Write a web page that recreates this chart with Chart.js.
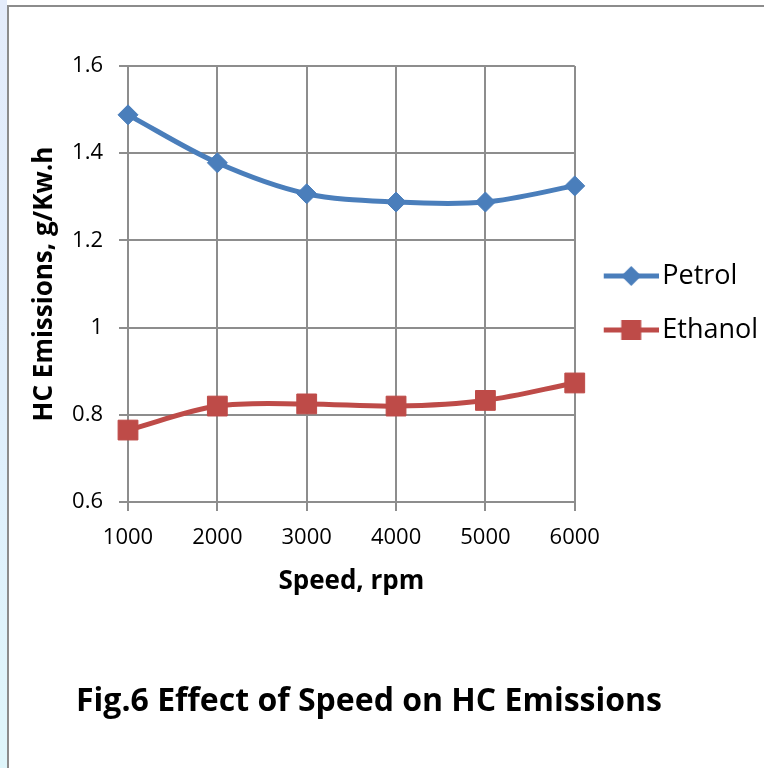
<!DOCTYPE html>
<html>
<head>
<meta charset="utf-8">
<script src="https://cdn.jsdelivr.net/npm/chart.js@4.4.0/dist/chart.umd.min.js"></script>
<style>
  html, body { margin: 0; padding: 0; background: #fff; }
  #wrap { position: relative; width: 764px; height: 768px; overflow: hidden; }
  #strip { position: absolute; left: 0; top: 0; width: 7px; height: 768px;
           background: linear-gradient(#e4ecfb, #dfeefc 50%, #dff6fb); }
  #frame { position: absolute; left: 7px; top: 5px; right: -10px; bottom: -10px;
           border-left: 2px solid #8c8c8c; border-top: 2px solid #8c8c8c; }
  canvas { position: absolute; left: 0; top: 0; }
  #caption { position: absolute; left: 0; width: 738px; top: 677px; line-height: 40px;
             text-align: center; font: bold 32px 'Open Sans', sans-serif; color: #000; }
</style>
</head>
<body>
<div id="wrap">
  <div id="strip"></div>
  <div id="frame"></div>
  <canvas id="HcChart" width="764" height="768"></canvas>
  <div id="caption"></div>
</div>
<script>
var speeds = ["1000", "2000", "3000", "4000", "5000", "6000"];
var petrol = [1.488, 1.378, 1.307, 1.288, 1.288, 1.325];
var ethanol = [0.765, 0.820, 0.825, 0.820, 0.833, 0.873];
var seriesNames = ["Petrol", "Ethanol"];
var yAxisLabel = "HC Emissions, g/Kw.h";
var xAxisLabel = "Speed, rpm";
var captionText = "Fig.6 Effect of Speed on HC Emissions";

var blue = "#4A7EBB";
var red = "#BE4B48";
var gridColor = "#8d8d8d";
var fontName = "'Open Sans', 'DejaVu Sans', sans-serif";

document.getElementById('caption').textContent = captionText;

// line + marker symbol for the legend (Excel style), left part kept transparent
function legendSymbol(color, marker){
    let c = document.createElement('canvas');
    c.width = 67;
    c.height = 22;
    let ctx = c.getContext('2d');
    ctx.strokeStyle = color;
    ctx.lineWidth = 5;
    ctx.beginPath();
    ctx.moveTo(12, 11);
    ctx.lineTo(67, 11);
    ctx.stroke();
    ctx.fillStyle = color;
    let cx = 39.5;
    if(marker == 'diamond'){
        ctx.beginPath();
        ctx.moveTo(cx, 1);
        ctx.lineTo(cx + 10, 11);
        ctx.lineTo(cx, 21);
        ctx.lineTo(cx - 10, 11);
        ctx.closePath();
        ctx.fill();
    }
    else{
        ctx.fillRect(cx - 10, 1, 20, 20);
    }
    return c;
}

var symbols = [legendSymbol(blue, 'diamond'), legendSymbol(red, 'square')];

let data = {
    labels: speeds,
    datasets: [
        {
            label: seriesNames[0],
            data: petrol,
            borderColor: blue,
            backgroundColor: blue,
            borderWidth: 5,
            pointStyle: 'rectRot',
            pointRadius: 10,
            pointBorderWidth: 1,
            tension: 0.33,
            clip: false
        },
        {
            label: seriesNames[1],
            data: ethanol,
            borderColor: red,
            backgroundColor: red,
            borderWidth: 5,
            pointStyle: 'rect',
            pointRadius: 14,
            pointBorderWidth: 1,
            tension: 0.33,
            clip: false
        }
    ]
};

let config = {
    type: 'line',
    data: data,
    options: {
        responsive: false,
        animation: false,
        devicePixelRatio: 1,
        layout: {
            padding: { top: 66, left: 25, right: 6, bottom: 171 }
        },
        plugins: {
            tooltip: { enabled: false },
            legend: {
                position: 'right',
                fullSize: false,
                title: {
                    display: true,
                    text: '',
                    font: { size: 10 },
                    padding: { top: 0, bottom: 26 }
                },
                labels: {
                    usePointStyle: true,
                    pointStyleWidth: 47,
                    padding: 27,
                    color: '#000',
                    font: { family: fontName, size: 27 },
                    generateLabels: function(chart){
                        return chart.data.datasets.map(function(ds, i){
                            return {
                                text: ds.label,
                                fontColor: '#000',
                                pointStyle: symbols[i],
                                fillStyle: ds.borderColor,
                                strokeStyle: ds.borderColor,
                                lineWidth: 0,
                                hidden: false,
                                datasetIndex: i
                            };
                        });
                    }
                }
            }
        },
        scales: {
            x: {
                offset: false,
                afterFit: function(scale){ scale.height = 95; },
                grid: { color: gridColor, lineWidth: 2, tickLength: 9, tickColor: gridColor },
                border: { color: gridColor, width: 2 },
                ticks: {
                    color: '#000',
                    padding: 14,
                    maxRotation: 0,
                    font: { family: fontName, size: 22 }
                },
                title: {
                    display: true,
                    text: xAxisLabel,
                    color: '#000',
                    font: { family: fontName, size: 26, weight: 'bold' },
                    padding: { top: 10, bottom: 0 }
                }
            },
            y: {
                min: 0.6,
                max: 1.6,
                afterFit: function(scale){ scale.width = 103; },
                grid: { color: gridColor, lineWidth: 2, tickLength: 9, tickColor: gridColor },
                border: { color: gridColor, width: 2 },
                ticks: {
                    stepSize: 0.2,
                    color: '#000',
                    padding: 16,
                    font: { family: fontName, size: 22 },
                    callback: function(v){ return String(Number(v.toFixed(1))); }
                },
                title: {
                    display: true,
                    text: yAxisLabel,
                    color: '#000',
                    font: { family: fontName, size: 26, weight: 'bold' },
                    padding: { top: 4, bottom: 4 }
                }
            }
        }
    }
};

let myChart = new Chart(document.getElementById('HcChart'), config);
</script>
</body>
</html>
